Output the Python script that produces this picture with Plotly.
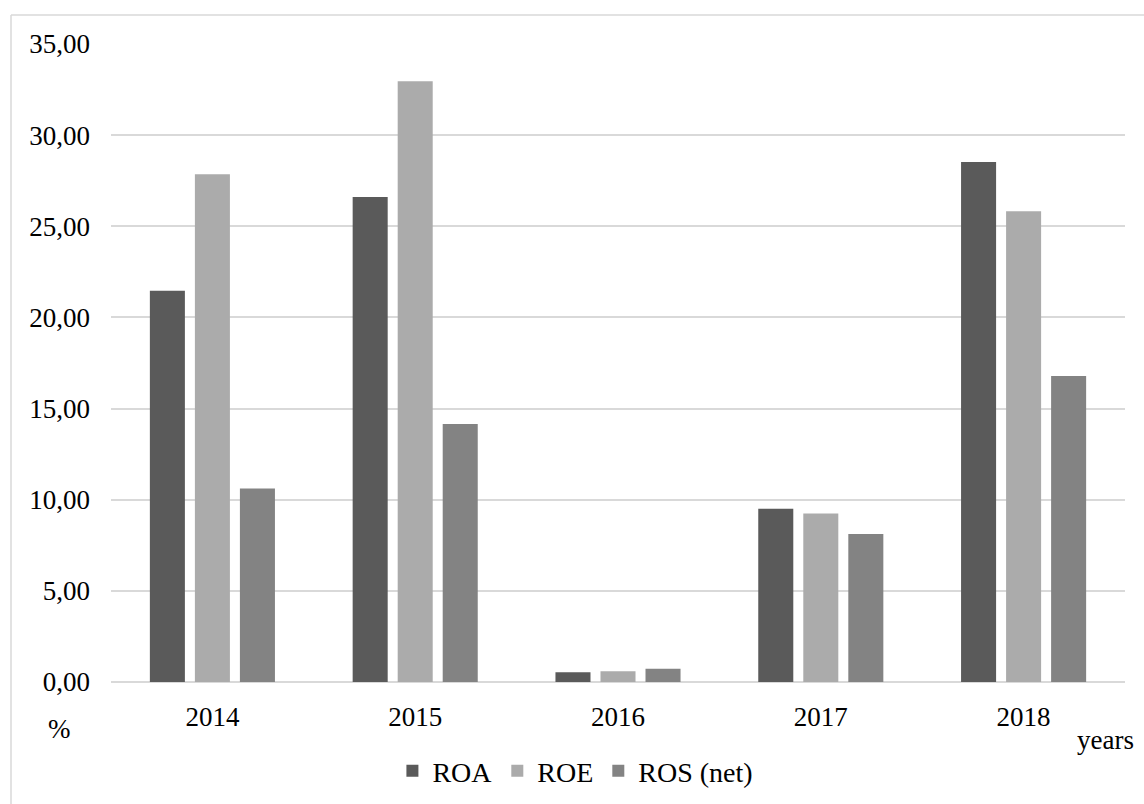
import plotly.graph_objects as go

years = ["2014", "2015", "2016", "2017", "2018"]
roa = [21.47, 26.60, 0.53, 9.51, 28.52]
roe = [27.85, 32.95, 0.59, 9.24, 25.82]
ros = [10.62, 14.15, 0.73, 8.12, 16.79]
series_names = ["ROA", "ROE", "ROS (net)"]
series_colors = ["#5a5a5a", "#ababab", "#838383"]
y_ticks = [0, 5, 10, 15, 20, 25, 30, 35]

W, H = 1144, 804
L, R, T, B = 111, 19, 44, 122
font_family = "Liberation Serif, Times New Roman, serif"

fig = go.Figure()
for name, vals, col in zip(series_names, [roa, roe, ros], series_colors):
    fig.add_trace(go.Bar(x=years, y=vals, name=name, marker=dict(color=col, line=dict(width=0))))

pw = W - L - R
ph = H - T - B

def px_x(x):
    return (x - L) / pw

def px_y(y):
    return (H - B - y) / ph

fig.update_layout(
    width=W, height=H,
    margin=dict(l=L, r=R, t=T, b=B, autoexpand=False),
    paper_bgcolor="white", plot_bgcolor="white",
    separators=", ",
    barmode="group", bargap=0.334, bargroupgap=0.222,
    font=dict(family=font_family, color="#000000", size=27),
    showlegend=True,
    legend=dict(orientation="h", x=0.458, y=px_y(771), xanchor="center", yanchor="middle",
                font=dict(size=28, family=font_family), itemwidth=30, traceorder="normal",
                bgcolor="rgba(0,0,0,0)"),
    xaxis=dict(showgrid=False, showline=False, ticks="", ticklabelstandoff=16, automargin=False,
               tickfont=dict(size=27, family=font_family)),
    yaxis=dict(range=[0, 35], tickvals=y_ticks, tickformat=".2f", showgrid=True, automargin=False,
               gridcolor="#d9d9d9", gridwidth=1.5, zeroline=True, zerolinecolor="#d9d9d9",
               zerolinewidth=1.5, showline=False, ticks="", ticklabelstandoff=20,
               tickfont=dict(size=27, family=font_family)),
    annotations=[
        dict(text="%", x=px_x(59), y=px_y(729), xref="paper", yref="paper",
             showarrow=False, xanchor="center", yanchor="middle",
             font=dict(size=27, family=font_family)),
        dict(text="years", x=px_x(1105), y=px_y(740), xref="paper", yref="paper",
             showarrow=False, xanchor="center", yanchor="middle",
             font=dict(size=27, family=font_family)),
    ],
    shapes=[
        dict(type="line", xref="paper", yref="paper", x0=px_x(11), x1=px_x(11),
             y0=px_y(15), y1=px_y(820), line=dict(color="#d9d9d9", width=1.5)),
        dict(type="line", xref="paper", yref="paper", x0=px_x(11), x1=px_x(1160),
             y0=px_y(15), y1=px_y(15), line=dict(color="#d9d9d9", width=1.5)),
    ],
)

fig.write_html("out.html")
